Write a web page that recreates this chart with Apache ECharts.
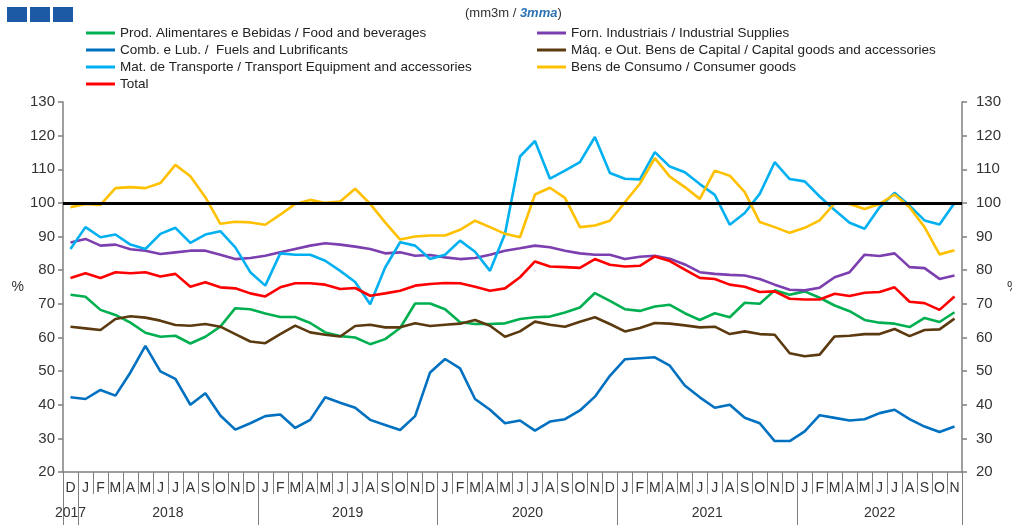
<!DOCTYPE html>
<html>
<head>
<meta charset="utf-8">
<script src="https://cdn.jsdelivr.net/npm/echarts@6/dist/echarts.min.js"></script>
<style>
    html, body { margin: 0; padding: 0; background: #fff; }
    #main { width: 1012px; height: 525px; }
</style>
</head>
<body>
<div id="main"></div>
<script>
// month letters, Dec 2017 .. Nov 2022
var monthLetters = ['J', 'F', 'M', 'A', 'M', 'J', 'J', 'A', 'S', 'O', 'N', 'D'];
var years = ['2017', '2018', '2019', '2020', '2021', '2022'];
var monthsInYear = [1, 12, 12, 12, 12, 11];
var yTicks = { min: 20, max: 130, step: 10 };

var food = [72.7, 72.1, 68.2, 66.7, 64.4, 61.4, 60.2, 60.5, 58.2, 60.2,
    63.2, 68.7, 68.4, 67.1, 66.1, 66.1, 64.3, 61.5, 60.4, 60,
    58, 59.5, 62.8, 70.1, 70.1, 68.4, 64.5, 64, 64, 64.2,
    65.5, 66, 66.2, 67.4, 68.9, 73.2, 70.9, 68.4, 67.9, 69.2,
    69.7, 67.2, 65.2, 67.2, 66, 70.3, 70, 74, 72.7, 73.7,
    71.8, 69.5, 67.8, 65.2, 64.4, 64.1, 63.1, 65.8, 64.6, 67.5];
var fuels = [42.2, 41.7, 44.4, 42.7, 49.6, 57.5, 49.9, 47.7, 40, 43.4,
    36.8, 32.6, 34.5, 36.6, 37.1, 33.1, 35.5, 42.2, 40.6, 39.1,
    35.5, 34, 32.5, 36.6, 49.6, 53.6, 50.8, 41.7, 38.5, 34.5,
    35.3, 32.3, 35, 35.7, 38.3, 42.4, 48.6, 53.5, 53.8, 54.1,
    51.6, 45.7, 42.2, 39.1, 40, 36.1, 34.5, 29.2, 29.2, 32.1,
    36.9, 36.1, 35.3, 35.7, 37.5, 38.5, 35.7, 33.5, 31.9, 33.5];
var transport = [86.3, 92.8, 89.8, 90.6, 87.6, 86.3, 90.8, 92.6, 88.1, 90.6,
    91.6, 86.8, 79.4, 75.4, 85, 84.6, 84.6, 82.8, 79.8, 76.5,
    69.9, 80.8, 88.3, 87.3, 83.3, 84.6, 88.8, 85.5, 79.8, 90.8,
    113.8, 118.4, 107.2, 109.6, 112.1, 119.6, 108.9, 107.2, 107, 115.1,
    110.8, 109.1, 105.6, 102.4, 93.5, 97, 102.7, 112.1, 107.1, 106.4,
    101.9, 97.9, 94.1, 92.3, 98.7, 103, 99.2, 94.8, 93.6, 100];
var industrial = [88.2, 89.3, 87.3, 87.6, 86.2, 85.8, 84.8, 85.3, 85.8, 85.8,
    84.6, 83.3, 83.6, 84.3, 85.3, 86.3, 87.3, 88, 87.6, 87,
    86.3, 85, 85.3, 84.3, 84.5, 83.8, 83.3, 83.6, 84.6, 85.8,
    86.5, 87.3, 86.8, 85.8, 85, 84.6, 84.6, 83.3, 84, 84.3,
    83.4, 81.7, 79.4, 78.9, 78.6, 78.4, 77.4, 75.7, 74.2, 74,
    74.8, 77.9, 79.4, 84.6, 84.2, 85, 80.9, 80.6, 77.4, 78.4];
var capital = [63.2, 62.7, 62.2, 65.5, 66.3, 65.9, 65, 63.7, 63.5, 64,
    63.2, 61, 58.8, 58.3, 61, 63.5, 61.5, 60.8, 60.3, 63.4,
    63.8, 63, 63, 64.2, 63.4, 63.8, 64.1, 65.2, 63.5, 60.2,
    61.8, 64.7, 63.8, 63.2, 64.7, 66, 64, 61.8, 62.8, 64.3,
    64.1, 63.6, 63, 63.2, 61, 61.8, 61, 60.8, 55.3, 54.4,
    54.9, 60.3, 60.5, 61, 61, 62.5, 60.4, 62.2, 62.4, 65.6];
var consumer = [98.7, 99.7, 99.4, 104.4, 104.7, 104.4, 105.9, 111.3, 107.9, 101.7,
    93.8, 94.4, 94.2, 93.5, 96.5, 99.7, 100.9, 100, 100.4, 104.2,
    99.7, 94.2, 89.1, 90, 90.3, 90.3, 92, 94.7, 92.8, 90.8,
    89.8, 102.5, 104.5, 101.5, 92.8, 93.3, 94.7, 100.2, 105.7, 113.3,
    107.8, 104.7, 101.2, 109.6, 108.1, 103.2, 94.3, 92.8, 91.1, 92.6,
    94.8, 99.9, 99.7, 98.2, 99.7, 102.5, 98.7, 92.8, 84.7, 85.9];
var total = [77.7, 79.1, 77.7, 79.4, 79.1, 79.4, 78.1, 78.9, 75.1, 76.4,
    74.9, 74.6, 73.1, 72.2, 74.9, 76.1, 76.1, 75.7, 74.4, 74.7,
    72.4, 73.1, 73.9, 75.4, 75.9, 76.2, 76.1, 75.1, 73.9, 74.6,
    77.9, 82.6, 81.1, 80.9, 80.7, 83.3, 81.6, 81.1, 81.3, 84.1,
    82.7, 80.2, 77.7, 77.4, 75.7, 75.1, 73.5, 73.7, 71.5, 71.3,
    71.3, 73, 72.3, 73.3, 73.5, 74.9, 70.6, 70.2, 68.2, 72.2];

(function() {
    var dom = document.getElementById('main');
    var myChart = echarts.init(dom);
    var font = 'Liberation Sans, Arial, sans-serif';

    // build month categories and the year boundaries / centres
    var months = [];
    var yearTicks = [0];
    var yearCentres = [];
    var pos = 0;
    for (var y = 0; y < years.length; y++) {
        var startMonth = (y === 0) ? 12 - monthsInYear[0] : 0;
        for (var m = 0; m < monthsInYear[y]; m++) {
            months.push(monthLetters[startMonth + m]);
        }
        yearCentres.push(pos + monthsInYear[y] / 2);
        pos += monthsInYear[y];
        yearTicks.push(pos);
    }

    var names = {
        food: 'Prod. Alimentares e Bebidas / Food and beverages',
        fuels: 'Comb. e Lub. /  Fuels and Lubrificants',
        transport: 'Mat. de Transporte / Transport Equipment and accessories',
        total: 'Total',
        industrial: 'Forn. Industriais / Industrial Supplies',
        capital: 'Máq. e Out. Bens de Capital / Capital goods and accessories',
        consumer: 'Bens de Consumo / Consumer goods'
    };

    function line(name, data, color) {
        return {
            name: name,
            type: 'line',
            data: data,
            symbol: 'none',
            xAxisIndex: 0,
            yAxisIndex: 0,
            lineStyle: { width: 2.6, color: color },
            itemStyle: { color: color },
            animation: false
        };
    }

    var legendBase = {
        orient: 'vertical',
        top: 26,
        padding: 0,
        icon: 'rect',
        itemWidth: 29,
        itemHeight: 3,
        itemGap: 3,
        textStyle: { fontFamily: font, fontSize: 13.5, color: '#222' }
    };

    var yAxisBase = {
        type: 'value',
        min: yTicks.min,
        max: yTicks.max,
        interval: yTicks.step,
        name: '%',
        nameLocation: 'middle',
        nameRotate: 0,
        nameTextStyle: { fontFamily: font, fontSize: 14, color: '#333' },
        axisLine: { show: true, lineStyle: { color: '#7f7f7f', width: 1.5 } },
        axisTick: { show: true, length: 5, lineStyle: { color: '#7f7f7f', width: 1.5 } },
        axisLabel: { fontFamily: font, fontSize: 15, color: '#333' },
        splitLine: { show: false }
    };

    var option = {
        backgroundColor: '#fff',
        title: {
            text: '{a|(mm3m / }{b|3mma}{a|)}',
            left: 460,
            top: 2,
            textStyle: {
                rich: {
                    a: { fontFamily: font, fontSize: 13, color: '#333', fontWeight: 'normal' },
                    b: { fontFamily: font, fontSize: 13, color: '#2e75b6', fontStyle: 'italic', fontWeight: 'bold' }
                }
            }
        },
        graphic: [
            { type: 'rect', shape: { x: 7, y: 7, width: 20, height: 15 }, style: { fill: '#1c5aa6' } },
            { type: 'rect', shape: { x: 30, y: 7, width: 20, height: 15 }, style: { fill: '#1c5aa6' } },
            { type: 'rect', shape: { x: 53, y: 7, width: 20, height: 15 }, style: { fill: '#1c5aa6' } }
        ],
        legend: [
            Object.assign({}, legendBase, {
                left: 86,
                data: [names.food, names.fuels, names.transport, names.total]
            }),
            Object.assign({}, legendBase, {
                left: 537,
                data: [names.industrial, names.capital, names.consumer]
            })
        ],
        grid: {
            left: 63,
            right: 50,
            top: 102,
            bottom: 53,
            containLabel: false,
            outerBoundsMode: 'none'
        },
        xAxis: [{
            type: 'category',
            data: months,
            boundaryGap: true,
            axisLine: { lineStyle: { color: '#7f7f7f', width: 1.5 } },
            axisTick: { show: true, interval: 0, length: 22, lineStyle: { color: '#7f7f7f', width: 1 } },
            axisLabel: { interval: 0, fontFamily: font, fontSize: 14, color: '#333', margin: 9 },
            splitLine: { show: false }
        }, {
            type: 'value',
            position: 'bottom',
            min: 0,
            max: months.length,
            axisLine: { show: false },
            axisTick: { show: true, customValues: yearTicks, length: 53, lineStyle: { color: '#7f7f7f', width: 1 } },
            axisLabel: {
                customValues: yearCentres,
                fontFamily: font,
                fontSize: 14,
                color: '#333',
                margin: 34,
                formatter: function(v) {
                    var i = yearCentres.indexOf(v);
                    return i >= 0 ? years[i] : '';
                }
            },
            splitLine: { show: false }
        }],
        yAxis: [
            Object.assign({}, yAxisBase, { position: 'left', nameGap: 31 }),
            Object.assign({}, yAxisBase, {
                position: 'right',
                nameGap: 39,
                axisLabel: { fontFamily: font, fontSize: 15, color: '#333', margin: 14 }
            })
        ],
        series: [
            line(names.food, food, '#00b050'),
            line(names.industrial, industrial, '#7b3fb0'),
            line(names.fuels, fuels, '#0070c0'),
            line(names.capital, capital, '#5c3a10'),
            line(names.transport, transport, '#00b0f0'),
            line(names.consumer, consumer, '#ffc000'),
            Object.assign(line(names.total, total, '#ff0000'), {
                markLine: {
                    silent: true,
                    symbol: 'none',
                    label: { show: false },
                    lineStyle: { color: '#000', width: 3, type: 'solid' },
                    data: [{ yAxis: 100 }],
                    animation: false
                }
            })
        ]
    };

    window.onresize = function() {
        myChart.resize();
    };
    if (option && typeof option === 'object') {
        myChart.setOption(option, true);
    }
})();
</script>
</body>
</html>
